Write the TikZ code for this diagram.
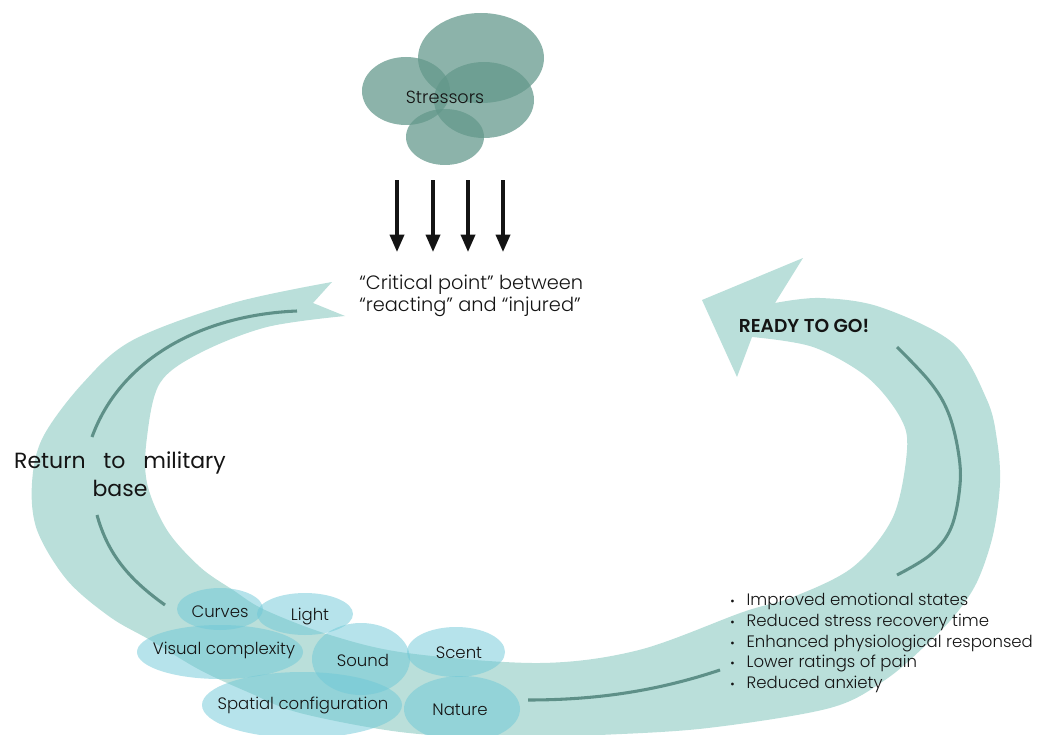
\documentclass[tikz,border=0pt]{standalone}
\usepackage{fontspec}
\IfFontExistsTF{Poppins Light}{\setmainfont{Poppins Light}}{\setmainfont{Poppins}}
\newfontfamily\regfont{Poppins}
\IfFontExistsTF{Poppins SemiBold}{\newfontfamily\readyfont{Poppins SemiBold}}{\newfontfamily\readyfont{Poppins}[FakeBold=0]}
\usetikzlibrary{arrows.meta,shapes.geometric}
\definecolor{bandc}{RGB}{186,223,218}
\definecolor{darkline}{RGB}{94,144,136}
\definecolor{stressc}{RGB}{98,151,138}
\definecolor{envc}{RGB}{110,200,215}
\definecolor{txtc}{RGB}{20,20,20}
\begin{document}
\begin{tikzpicture}[x=0.75pt,y=-0.75pt,
  cloud/.style={ellipse,inner sep=0pt,fill=stressc,fill opacity=0.73,draw=none},
  envell/.style={ellipse,inner sep=0pt,fill=envc,fill opacity=0.5,draw=none},
  envlabel/.style={font=\fontsize{12.4}{14}\selectfont,text=txtc,inner sep=0pt},
  stressarrow/.style={-{Triangle[length=13pt,width=10.5pt]},line width=2.6pt,draw=txtc},
  guide/.style={draw=darkline,line width=2.3pt},
  bandfill/.style={fill=bandc,draw=none}]
\useasboundingbox (0,0) rectangle (1040,735);

% big curved band arrow
\fill[bandfill] (313,303) -- (332,282)
  -- plot[smooth,tension=0.55] coordinates {(332,282) (233,303) (133,340) (83,383) (43,437) (32,483) (37,530) (67,580) (110,617) (150,640) (200,670) (250,693) (300,713) (400,732) (500,738) (600,735) (708,728) (830,708) (885,680) (926,645) (955,615) (977,582) (993,535) (1000,483) (997,440) (987,400) (953,343) (880,307) (820,298) (775,303)}
  -- (803,258) -- (702,300) -- (737,377) -- (752,337)
  -- plot[smooth,tension=0.55] coordinates {(752,337) (813,347) (867,377) (900,417) (907,450) (893,517) (853,567) (793,597) (743,612) (639,650) (540,663) (407,653) (330,635) (265,610) (233,590) (200,567) (167,530) (147,483) (147,437) (160,383) (200,353) (267,327) (345,316)}
  -- cycle;

% guide lines inside the band
\draw[guide] (297,311) .. controls (200,315) and (120,360) .. (92,437);
\draw[guide] (97,515) .. controls (108,555) and (130,580) .. (165,605);
\draw[guide] (528,700) .. controls (600,700) and (660,690) .. (720,670);
\draw[guide] plot[smooth,tension=0.6] coordinates {(897,347) (930,382) (948,412) (958,450) (960,485) (951,528) (930,555) (897,575)};

% stressors cloud
\node[cloud,minimum width=94.5pt,minimum height=67.5pt] (s1) at (481,58) {};
\node[cloud,minimum width=66pt,minimum height=51pt] (s2) at (406,91) {};
\node[cloud,minimum width=75pt,minimum height=57pt] (s3) at (484,100) {};
\node[cloud,minimum width=58.5pt,minimum height=42pt] (s4) at (445,137) {};
\node[font=\fontsize{13.2}{15}\selectfont,text=txtc,inner sep=0pt] (stressors) at (445,97) {Stressors};

% stress arrows
\coordinate (a1) at (397,180); \coordinate (b1) at (397,252);
\coordinate (a2) at (433,180); \coordinate (b2) at (433,252);
\coordinate (a3) at (468,180); \coordinate (b3) at (468,252);
\coordinate (a4) at (503,180); \coordinate (b4) at (503,252);
\draw[stressarrow] (a1) -- (b1);
\draw[stressarrow] (a2) -- (b2);
\draw[stressarrow] (a3) -- (b3);
\draw[stressarrow] (a4) -- (b4);

\node[anchor=west,align=left,font=\fontsize{14.5}{16.5}\selectfont,text=txtc,inner sep=0pt] (critical) at (359,296)
  {“Critical point” between\\“reacting” and “injured”};

% environment ellipses
\node[envell,minimum width=64.5pt,minimum height=31.5pt] (curves) at (220,609) {};
\node[envell,minimum width=72pt,minimum height=31.5pt] (light) at (305,614) {};
\node[envell,minimum width=124.5pt,minimum height=40.5pt] (visual) at (220,652) {};
\node[envell,minimum width=73.5pt,minimum height=54pt] (sound) at (361,659) {};
\node[envell,minimum width=73.5pt,minimum height=37.5pt] (scent) at (456,652) {};
\node[envell,minimum width=150pt,minimum height=49.5pt] (spatial) at (302,705) {};
\node[envell,minimum width=87pt,minimum height=49.5pt] (nature) at (462,709) {};

\node[envlabel] (tcurves) at (220,612) {Curves};
\node[envlabel] (tlight) at (310,616) {Light};
\node[envlabel] (tvisual) at (224,650) {Visual complexity};
\node[envlabel] (tsound) at (363,660) {Sound};
\node[envlabel] (tscent) at (459,653) {Scent};
\node[envlabel] (tspatial) at (303,705) {Spatial configuration};
\node[envlabel] (tnature) at (460,710) {Nature};

% labels
\node[font=\fontsize{14}{16}\readyfont,text=txtc,inner sep=0pt] (ready) at (804,326) {READY TO GO!};
\node[align=center,font=\fontsize{16.5}{21}\regfont,text=txtc,inner sep=0pt] (return) at (120,474)
  {Return\hspace{9pt} to\hspace{9pt} military\\base};
\node[anchor=west,align=left,font=\fontsize{12.4}{15.6}\selectfont,text=txtc,inner sep=0pt] (benefits) at (730,643)
  {{\small•}\hspace{9pt}Improved emotional states\\
   {\small•}\hspace{9pt}Reduced stress recovery time\\
   {\small•}\hspace{9pt}Enhanced physiological responsed\\
   {\small•}\hspace{9pt}Lower ratings of pain\\
   {\small•}\hspace{9pt}Reduced anxiety};
\end{tikzpicture}
\end{document}
